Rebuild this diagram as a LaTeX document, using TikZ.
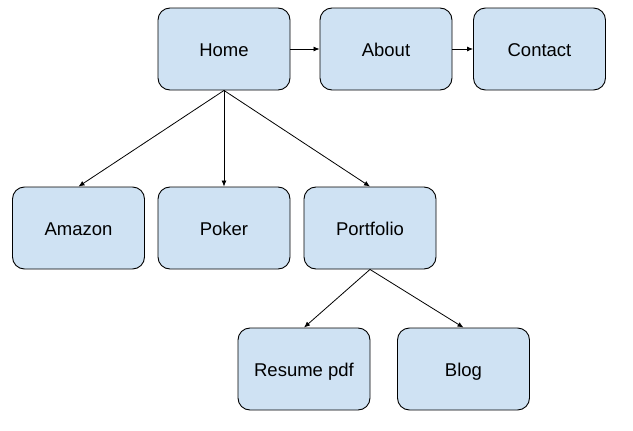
\documentclass[tikz,border=0pt]{standalone}
\usepackage{fontspec}
\setmainfont{Liberation Sans}
\usetikzlibrary{arrows.meta}
\definecolor{boxfill}{HTML}{CFE2F3}
\begin{document}
\begin{tikzpicture}[x=1pt,y=-1pt,
  pagebox/.style={draw=black,fill=boxfill,line width=0.9pt,rounded corners=12pt,
    minimum width=132pt,minimum height=82pt,inner sep=0pt,
    text height=16.5pt,text depth=1pt,
    font=\fontsize{18.5}{22}\selectfont},
  link/.style={draw=black,line width=0.8pt,-{Latex[length=6pt,width=5pt]}}]
\useasboundingbox (0,0) rectangle (633,431);
\node[pagebox] (home) at (224,49) {Home};
\node[pagebox] (about) at (386,49) {About};
\node[pagebox] (contact) at (539.5,49) {Contact};
\node[pagebox] (amazon) at (78.5,228) {Amazon};
\node[pagebox] (poker) at (224,228) {Poker};
\node[pagebox] (portfolio) at (370,228) {Portfolio};
\node[pagebox] (resume) at (304,369) {Resume pdf};
\node[pagebox] (blog) at (463.5,369) {Blog};
\draw[link] (home.east) -- (about.west);
\draw[link] (about.east) -- (contact.west);
\draw[link] (home.south) -- (amazon.north);
\draw[link] (home.south) -- (poker.north);
\draw[link] (home.south) -- (portfolio.north);
\draw[link] (portfolio.south) -- (resume.north);
\draw[link] (portfolio.south) -- (blog.north);
\end{tikzpicture}
\end{document}
